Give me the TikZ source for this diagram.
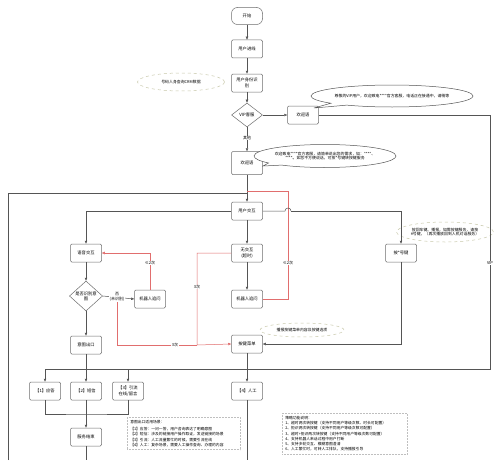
\documentclass[tikz,border=0pt]{standalone}
\usepackage{fontspec}
\setmainfont{Noto Sans CJK SC}
\usetikzlibrary{shapes.geometric,shapes.callouts,arrows.meta}
\definecolor{lc}{RGB}{85,85,85}
\definecolor{bc}{RGB}{110,110,110}
\definecolor{rc}{RGB}{225,110,110}
\definecolor{dc}{RGB}{200,200,170}
\begin{document}
\begin{tikzpicture}[x=1pt,y=-1pt,
  box/.style={draw=bc, line width=0.5pt, rounded corners=1.2pt, minimum width=31pt, minimum height=18pt, inner sep=1pt, align=center, fill=white, font=\fontsize{4.3}{5.3}\selectfont},
  dia/.style={draw=bc, line width=0.5pt, diamond, aspect=1.25, inner sep=0pt, align=center, fill=white, font=\fontsize{4.3}{5.3}\selectfont},
  arr/.style={draw=lc, line width=0.5pt, -{Triangle[length=3pt,width=2.4pt]}},
  ln/.style={draw=lc, line width=0.5pt},
  rarr/.style={draw=rc, line width=0.5pt, -{Triangle[length=3pt,width=2.4pt]}},
  rln/.style={draw=rc, line width=0.5pt},
  lbl/.style={fill=white, inner sep=0.6pt, align=center, font=\fontsize{4}{4.8}\selectfont},
  call/.style={draw=lc, line width=0.5pt, ellipse callout, fill=white, inner sep=0pt, align=center, font=\fontsize{3.9}{4.8}\selectfont},
  dell/.style={draw=dc, dashed, line width=0.5pt, ellipse, inner sep=0pt, align=center, fill=white, font=\fontsize{3.9}{4.8}\selectfont},
  notebox/.style={draw=black!25, densely dotted, line width=0.5pt, inner sep=3pt, align=left, anchor=north west, font=\fontsize{3.8}{5.2}\selectfont}
]
\useasboundingbox (0,0) rectangle (500,460);
\fill[white] (0,0) rectangle (500,460);

% top chain
\node[box, rounded corners=6pt, minimum height=17pt] (st) at (247,16) {开始};
\node[box] (n1) at (247,49) {用户进线};
\node[box] (n2) at (247,83) {用户身份识\\别};
\node[dell, minimum width=87pt, minimum height=18pt] (crm) at (181,82) {号码人身查询CRM数据};
\node[dia, minimum width=31pt, minimum height=24pt] (vip) at (247,115) {VIP客服};
\node[box] (vipw) at (303,115) {欢迎语};
\node[call, minimum width=147pt, minimum height=22pt, callout absolute pointer={(314,108)}] (c1) at (392,96) {尊敬的VIP用户，欢迎致电****官方客服，电话正在接通中，请稍等};
\node[box, minimum height=23pt] (wel) at (247,163) {欢迎语};
\node[call, minimum width=121pt, minimum height=23pt, callout absolute pointer={(263,166)}] (c2) at (325,156) {欢迎致电****官方客服，请简单说出您的需求，如：****、\\****。如您不方便说话，可按*号键转按键服务};

% middle
\node[box] (ui) at (247,211) {用户交互};
\node[box] (voice) at (86,253) {语音交互};
\node[box] (none) at (247,253) {无交互\\(超时)};
\node[box] (star) at (401,253) {按*号键};
\node[dell, minimum width=78pt, minimum height=20pt] (c3) at (445,232) {按回车键、播报，如需按键服务，请按\\ \#号键，（再次播放回到人机对话服务）};
\node[dia, minimum width=32pt, minimum height=30pt] (intent) at (86,296) {是否识别意\\图};
\node[box] (rb1) at (150,299) {机器人追问};
\node[box] (rb2) at (247,299) {机器人追问};
\node[box] (exit) at (86,345) {意图出口};
\node[box] (menu) at (247,344) {按键菜单};
\node[dell, minimum width=84pt, minimum height=14pt] (c4) at (302,330) {播报按键菜单内容及按键选项};

% bottom
\node[box] (b1) at (45,391) {【1】应答};
\node[box] (b2) at (86,391) {【2】短信};
\node[box] (b3) at (128,391) {【3】引流\\在线/留言};
\node[box] (b4) at (247,391) {【4】人工};
\node[box] (end) at (86,437) {服务结束};
\node[notebox, text width=107pt] (note1) at (127,417) {意图出口适用场景：\\[2pt]【1】应答：一问一答，用户咨询表达了明确意图\\【2】短信：涉及的链接用户操作取证，发送链接的场景\\【3】引流：人工流量繁忙的时候，需要引流在线\\【4】人工：复杂场景，需要人工操作查询、办理的内容};
\node[notebox, text width=119pt] (note2) at (282,413) {策略功能说明：\\1、超时两次转按键（支持不同用户等级次数、时长可配置）\\2、拒识两次转按键（支持不同用户等级次数可配置）\\3、超时+拒识两次转按键（支持不同用户等级次数可配置）\\4、支持机器人来话过程中用户打断\\5、支持多轮交互、模糊意图澄清\\6、人工繁忙时，可转人工排队，支持播报引导};

% coordinates
\coordinate (lb) at (8,460);
\coordinate (lt) at (8,193);
\coordinate (vr) at (490,115);
\coordinate (vb) at (490,369);
\coordinate (hl) at (45,369);
\coordinate (rr) at (288,299);
\coordinate (rt) at (288,191);
\coordinate (hop) at (285,211);
\coordinate (nl) at (197,253);
\coordinate (nb) at (197,345);
\coordinate (eb) at (86,460);
\coordinate (b4b) at (247,460);
\coordinate (jn) at (86,414);

% top connectors
\draw[arr] (st) -- (n1);
\draw[arr] (n1) -- (n2);
\draw[arr] (n2) -- (vip);
\draw[arr] (vip) -- (vipw);
\draw[arr] (vip) -- (wel) node[lbl, pos=0.45] {其他};
\draw[arr] (wel) -- (ui);
% left loop back
\draw[ln] (lb) -- (lt) -- (lt -| ui);
% red loop <=2
\draw[rln] (rb2.east) -- (rr) -- (rt) -- (rt -| ui);
\node[lbl] (l2a) at (288,263) {≤2次};
% VIP line
\draw[ln] (vipw.east) -- (vr) -- (vb) -- (hl);
\node[lbl] (lvip) at (490,263) {VIP};
% user interaction branches
\draw[ln] (ui.east) -- (hop) arc (180:360:3);
\draw[arr] (291,211) -| (star.north);
\draw[arr] (ui.west) -| (voice.north);
\draw[arr] (ui) -- (none);
\draw[arr] (none) -- (rb2);
\draw[rarr] (none.west) -- (nl) -- (nb) -- (menu.west);
\node[lbl] (l3a) at (197,287) {3次};
\draw[arr] (voice) -- (intent);
\draw[rarr] (rb1.north) |- (voice.east);
\node[lbl] (l2b) at (150,263) {≤2次};
\draw[arr] (intent.east) -- (rb1.west);
\node[lbl] (lno) at (117,297) {否\\(未识别)};
\draw[rln] (lno.south) -- (117,345) -- (nb);
\node[lbl] (l3b) at (175,345) {3次};
\draw[arr] (intent) -- (exit);
\draw[arr] (star.south) |- (menu.east);
% bottom
\draw[ln] (exit.south) -- (exit.south |- hl);
\draw[arr] (b1.north |- hl) -- (b1.north);
\draw[arr] (b2.north |- hl) -- (b2.north);
\draw[arr] (b3.north |- hl) -- (b3.north);
\draw[arr] (menu) -- (b4);
\draw[ln] (b1.south) |- (jn) -| (b3.south);
\draw[ln] (b2.south) -- (jn);
\draw[arr] (jn) -- (end);
\draw[ln] (end) -- (eb);
\draw[ln] (b4) -- (b4b);
\end{tikzpicture}
\end{document}
